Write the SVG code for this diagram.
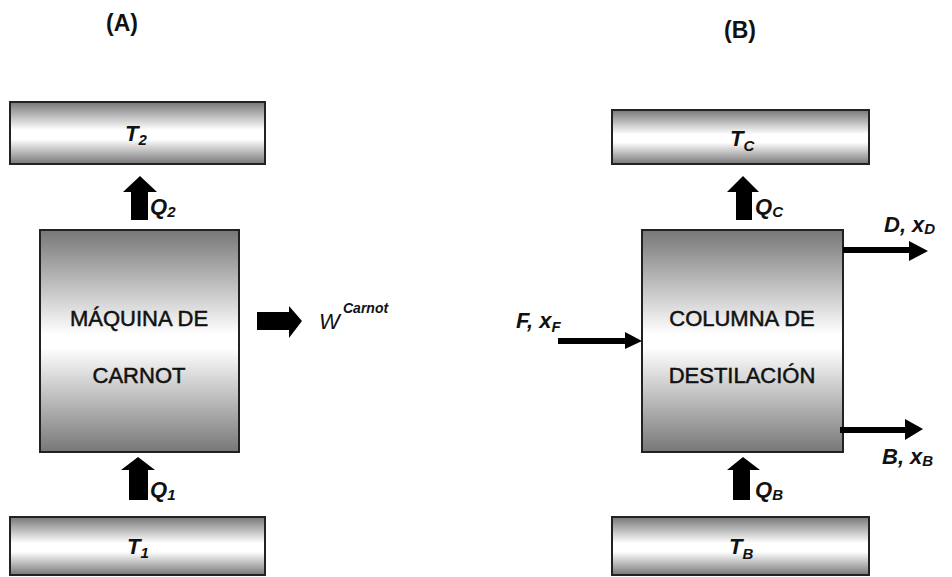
<svg xmlns="http://www.w3.org/2000/svg" width="952" height="577" viewBox="0 0 952 577">
<style>
  .bx { stroke:#222; stroke-width:2; }
  .res { fill:url(#gSmall); }
  .big { fill:url(#gBig); }
  .ttl { font-family:"Liberation Sans",Arial,sans-serif; font-weight:bold; font-size:23px; fill:#111; text-anchor:middle; }
  .lbl { font-family:"Liberation Sans",Arial,sans-serif; font-size:22px; fill:#111; stroke:#111; stroke-width:0.5; text-anchor:middle; }
  .it { font-family:"Liberation Sans",Arial,sans-serif; font-style:italic; font-weight:bold; font-size:22px; fill:#111; }
  .sub { font-size:15px; }
  .blk { fill:#000; }
  .ln { stroke:#000; stroke-width:6; fill:none; }
</style>
<defs>
  <linearGradient id="gSmall" x1="0" y1="0" x2="0" y2="1">
    <stop offset="0" stop-color="#777"/>
    <stop offset="0.45" stop-color="#fff"/>
    <stop offset="0.6" stop-color="#fff"/>
    <stop offset="1" stop-color="#777"/>
  </linearGradient>
  <linearGradient id="gBig" x1="0" y1="0" x2="0" y2="1">
    <stop offset="0" stop-color="#777"/>
    <stop offset="0.47" stop-color="#fff"/>
    <stop offset="0.53" stop-color="#fff"/>
    <stop offset="1" stop-color="#777"/>
  </linearGradient>
</defs>

<text class="ttl" x="122" y="31">(A)</text>
<text class="ttl" x="740" y="38">(B)</text>

<g id="T2">
  <rect class="bx res" x="10" y="102" width="255" height="62"/>
  <text class="it" x="125" y="141">T<tspan class="sub" dy="4">2</tspan></text>
</g>
<g id="carnot">
  <rect class="bx big" x="40" y="230" width="199" height="222"/>
  <text class="lbl" x="139" y="326">MÁQUINA DE</text>
  <text class="lbl" x="139" y="383">CARNOT</text>
</g>
<g id="T1">
  <rect class="bx res" x="10" y="517" width="255" height="58"/>
  <text class="it" x="127" y="554">T<tspan class="sub" dy="4">1</tspan></text>
</g>

<g id="TC">
  <rect class="bx res" x="612" y="110" width="257" height="54"/>
  <text class="it" x="730" y="146">T<tspan class="sub" dy="5">C</tspan></text>
</g>
<g id="columna">
  <rect class="bx big" x="642" y="230" width="201" height="222"/>
  <text class="lbl" x="742" y="326">COLUMNA DE</text>
  <text class="lbl" x="742" y="383">DESTILACIÓN</text>
</g>
<g id="TB">
  <rect class="bx res" x="612" y="517" width="257" height="58"/>
  <text class="it" x="729" y="554">T<tspan class="sub" dy="5">B</tspan></text>
</g>

<g id="connectors">
  <!-- Q2 -->
  <polygon class="blk" points="131,220 131,192 123,192 140,176 157,192 148,192 148,220"/>
  <!-- Q1 -->
  <polygon class="blk" points="129,500 129,470 121,470 138,457 155,470 148,470 148,500"/>
  <!-- W -->
  <polygon class="blk" points="257,312 289,312 289,306 302,321 289,338 289,330 257,330"/>
  <!-- QC -->
  <polygon class="blk" points="736,220 736,192 727,192 743,176 759,192 752,192 752,220"/>
  <!-- QB -->
  <polygon class="blk" points="733,500 733,470 727,470 743,457 760,470 750,470 750,500"/>
  <!-- F -->
  <line class="ln" x1="558" y1="341" x2="627" y2="341"/>
  <polygon class="blk" points="625,332 642,341 625,349"/>
  <!-- D -->
  <line class="ln" x1="843" y1="250" x2="911" y2="250"/>
  <polygon class="blk" points="909,241 928,251 909,261"/>
  <!-- B -->
  <line class="ln" x1="840" y1="430" x2="907" y2="430"/>
  <polygon class="blk" points="905,419 923,429 905,440"/>
</g>

<g id="labels">
  <text class="it" x="150" y="214">Q<tspan class="sub" dy="3">2</tspan></text>
  <text class="it" x="150" y="497">Q<tspan class="sub" dy="3">1</tspan></text>
  <text class="it" x="755" y="214">Q<tspan class="sub" dy="3">C</tspan></text>
  <text class="it" x="755" y="497">Q<tspan class="sub" dy="3">B</tspan></text>
  <text class="it" x="319" y="329" style="font-weight:normal;font-size:22px">W</text>
  <text class="it" x="343" y="313" style="font-size:14px">Carnot</text>
  <text class="it" x="516" y="328">F, x<tspan class="sub" dy="4">F</tspan></text>
  <text class="it" x="884" y="232">D, x<tspan class="sub" dy="2">D</tspan></text>
  <text class="it" x="882" y="464">B, x<tspan class="sub" dy="2">B</tspan></text>
</g>
</svg>
